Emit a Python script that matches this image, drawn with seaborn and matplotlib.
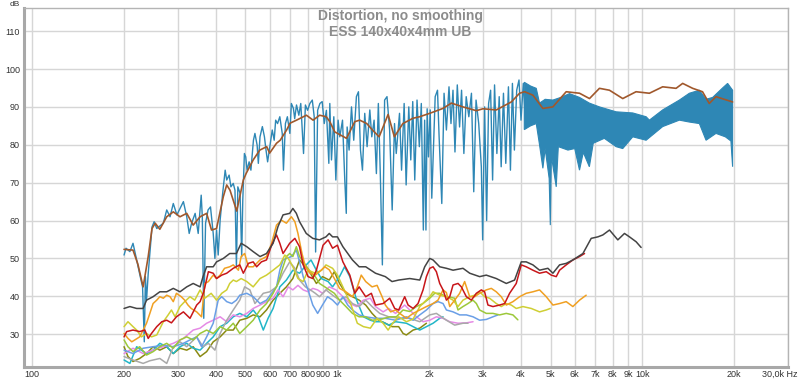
import seaborn as sns
import matplotlib.pyplot as plt
from matplotlib.transforms import ScaledTranslation

sns.set_style("whitegrid", {"grid.color": "#d6d6d6", "axes.edgecolor": "#b0b0b0"})
plt.rcParams['font.family'] = ['Liberation Sans', 'DejaVu Sans']

# fundamental, raw (200 Hz - 4.2 kHz, line part)
fund_f = [200, 203, 209, 214, 217, 226, 230, 233, 235, 237, 240, 247, 251, 256, 269, 276, 283, 290, 298,
          313, 321, 327, 333, 342, 350, 358, 361, 365, 370, 377, 384, 392, 397, 402, 407, 413, 421,
          429, 434, 442, 448, 456, 462, 467, 472, 480, 486, 490, 496, 501, 506, 514, 521, 531, 537, 546,
          551, 558, 568, 577, 583, 591, 601, 612, 621, 628, 637, 648, 660, 666, 676, 686, 699, 707, 718,
          725, 735, 748, 759, 775, 786, 799, 813, 828, 840, 849, 862, 877, 892, 906, 921, 938,
          945, 957, 974, 989, 1006, 1019, 1040, 1058, 1070, 1077, 1093, 1113, 1132, 1155, 1173, 1191,
          1209, 1230, 1252, 1278, 1297, 1320, 1343, 1363, 1384, 1405, 1429, 1455, 1484, 1513, 1540, 1560,
          1599, 1624, 1656, 1681, 1715, 1741, 1767, 1794, 1825, 1857, 1885, 1914, 1933, 1952, 1970, 1990,
          2016, 2040, 2093, 2130, 2156, 2200, 2238, 2278, 2323, 2358, 2394, 2430, 2473, 2516, 2554, 2599,
          2645, 2698, 2752, 2800, 2849, 2907, 2965, 2995, 3040, 3086, 3132, 3180, 3228, 3276, 3334, 3393,
          3444, 3504, 3566, 3638, 3693, 3749, 3805, 3872, 3940, 4000, 4070, 4142, 4204]
fund_db = [50.9, 52.7, 51.8, 54.0, 51.8, 45.2, 42.5, 28.0, 45.2, 39.0, 46.0, 58.3, 59.7, 57.9, 59.3, 62.8,
           61.0, 64.5, 61.5, 65.0, 61.0, 56.6, 59.3, 61.9, 56.6, 66.7, 61.0, 34.2, 59.3, 62.8, 63.6, 56.6,
           50.0, 57.5, 50.9, 60.1, 67.2,
           73.3, 70.7, 72.0, 68.9, 69.8, 68.0, 47.5, 68.9, 67.2, 50.4, 65.4, 77.7, 76.8, 73.3, 75.5, 73.3,
           81.2, 83.0, 79.9, 75.1, 82.1, 84.8, 82.1, 79.0, 75.5, 79.5, 83.9, 81.2, 86.5, 85.6, 87.4, 83.0,
           73.3, 85.6, 87.4, 83.0, 90.9, 89.6, 86.9, 90.5, 87.8, 90.9, 77.7, 90.5, 89.1, 90.9, 91.8, 87.4,
           51.7, 89.1, 90.9, 91.4, 85.6, 89.1, 75.1,
           90.9, 76.0, 87.4, 70.7, 86.5, 82.1, 86.5, 70.7, 61.9, 84.7, 78.6, 90.0, 81.2, 92.7, 94.0, 78.6,
           73.3, 88.3, 79.5, 89.2, 82.1, 86.5, 72.4, 90.9, 71.6, 48.3, 91.8, 92.7, 83.9, 62.8, 85.6, 77.7,
           88.3, 73.3, 90.9, 69.4, 90.0, 76.0, 91.4, 70.7, 91.8, 79.5, 90.9, 57.5, 86.5, 57.5, 89.5, 76.8,
           89.2, 65.9, 92.7, 94.4, 82.1, 64.5, 93.6, 83.9, 95.3, 85.6, 94.4, 78.1, 95.8, 84.7, 94.4, 77.7,
           92.7, 87.4, 93.6, 67.6, 91.8, 85.6, 74.2, 54.9, 90.0, 60.0, 90.9, 94.4, 70.7, 95.8, 77.7, 92.7,
           74.2, 93.6, 75.1, 95.3, 73.3, 96.2, 78.6, 94.4, 97.1, 86.5, 96.2, 85.6, 94.4]

# fundamental, raw (dense band above 4 kHz): upper / lower envelope
band_up_f = [4100, 4300, 4488, 4600, 4800, 5087, 5400, 5768, 6220, 6700, 7230, 8200, 9297, 10283, 10540,
             11651, 13217, 14250, 15369, 16164, 16990, 18316, 19021, 19750]
band_up_db = [96.5, 95.5, 94.9, 91.0, 92.0, 91.8, 92.5, 93.5, 92.5, 91.0, 90.0, 88.7, 88.4, 87.4, 86.5,
              89.2, 91.8, 93.6, 94.4, 92.0, 92.5, 95.0, 96.2, 94.4]
band_lo_f = [4100, 4300, 4488, 4600, 4718, 4800, 4947, 4990, 5030, 5218, 5300, 5700, 6000, 6220, 6400,
             6700, 6900, 7500, 8200, 8620, 9297, 10283, 11651, 13217, 14250, 15369, 16164, 17420, 18700,
             19500, 19750]
band_lo_db = [84.0, 85.0, 85.6, 80.0, 73.8, 79.0, 71.1, 58.8, 77.0, 68.9, 79.5, 78.6, 79.0, 73.3, 78.0,
              74.2, 80.4, 81.7, 79.5, 79.0, 82.1, 81.2, 84.8, 86.5, 86.0, 85.6, 81.2, 83.0, 82.1, 81.0, 74.2]

# fundamental, smoothed
smooth_f = [200, 214, 222, 231, 240, 247, 253, 262, 276, 290, 305, 321, 337, 355, 373, 387, 402, 423, 434,
            445, 468, 492, 503, 530, 557, 587, 600, 632, 650, 682, 700, 735, 792, 833, 875, 920, 945, 981,
            1072, 1141, 1184, 1249, 1304, 1371, 1467, 1538, 1640, 1770, 1862, 2008, 2220, 2365, 2581,
            2856, 3001, 3320, 3717, 3957, 4111, 4375, 4718, 5086, 5626, 6221, 6707, 7230, 7797, 8620,
            9530, 10540, 11650, 12890, 13550, 14610, 15740, 16560, 17420, 19750]
smooth_db = [52.4, 52.2, 48.5, 42.5, 50.5, 57.9, 59.3, 57.7, 61.0, 62.3, 61.0, 61.9, 58.8, 61.0, 61.9, 57.5,
             57.9, 66.3, 69.4, 68.0, 62.5, 70.7, 72.5, 76.0, 78.6, 79.5, 77.8, 80.4, 81.2, 83.9, 85.7, 86.5,
             87.8, 86.5, 87.8, 87.4, 86.1, 83.4, 81.7, 86.1, 86.5, 85.6, 83.9, 82.1, 88.0, 82.1, 85.6, 87.0,
             87.4, 88.3, 89.6, 91.0, 90.0, 89.0, 89.5, 89.2, 91.3, 93.6, 94.0, 93.1, 89.6, 90.0, 94.0, 93.6,
             92.2, 94.9, 94.4, 92.2, 94.0, 93.6, 95.3, 94.9, 96.2, 94.9, 94.0, 90.9, 92.7, 91.3]

thd_f = [200, 209, 220, 231, 237, 249, 262, 276, 290, 305, 321, 337, 355, 363, 373, 392, 402, 423, 444, 467,
         484, 505, 530, 558, 586, 616, 639, 664, 698, 715, 734, 752, 791, 831, 874, 918, 941, 965, 1001,
         1043, 1121, 1179, 1239, 1334, 1437, 1511, 1589, 1727, 1863, 1934, 2009, 2060, 2166, 2278, 2395,
         2582, 2716, 2927, 3077, 3319, 3580, 3811, 4008, 4160, 4376, 4601, 4900, 5089, 5351, 5626, 5916,
         6382, 6794, 7145, 7417, 7800, 8306, 8734, 9068, 9537, 9902]
thd_db = [36.8, 37.3, 36.8, 36.8, 39.0, 39.9, 41.2, 41.2, 42.1, 41.2, 42.5, 43.4, 42.5, 45.2, 47.8, 47.8,
          49.1, 50.0, 51.3, 51.3, 54.0, 53.1, 51.8, 50.5, 51.3, 54.0, 58.4, 61.5, 61.9, 63.2, 61.9, 59.7,
          56.6, 55.3, 54.9, 55.7, 56.6, 55.7, 55.7, 53.1, 49.6, 47.8, 47.8, 46.1, 45.2, 43.9, 44.3, 44.7,
          44.3, 47.8, 50.0, 49.6, 47.8, 47.4, 46.9, 47.4, 46.1, 45.2, 45.6, 44.7, 43.4, 44.3, 49.1, 49.1,
          48.3, 46.9, 47.4, 46.1, 48.3, 48.7, 49.6, 51.3, 55.3, 55.7, 56.2, 57.5, 54.9, 56.6, 55.7, 54.4, 52.9]

h2_f = [200, 204, 214, 225, 234, 240, 246, 256, 266, 276, 286, 297, 313, 329, 346, 355, 365, 378, 392, 402,
        418, 434, 456, 479, 492, 511, 530, 544, 564, 586, 609, 632, 648, 664, 698, 726, 752, 773, 802, 831,
        854, 898, 933, 965, 1001, 1043, 1099, 1141, 1179, 1239, 1293, 1334, 1413, 1485, 1542, 1589, 1663,
        1706, 1772, 1839, 1910, 1959, 2009, 2060, 2112, 2166, 2221, 2278, 2336, 2395, 2487, 2550, 2648,
        2750, 2855, 2965, 3039, 3117, 3237, 3405, 3535, 3670, 3859, 4008, 4160, 4376, 4601, 4840, 5026,
        5218, 5351, 5626, 5916, 6222, 6461]
h2_db = [29.3, 30.7, 31.1, 30.7, 31.1, 28.9, 30.2, 32.0, 33.3, 33.7, 33.0, 34.6, 35.9, 34.2, 37.7, 38.6,
         41.2, 46.5, 46.1, 44.7, 45.6, 46.1, 47.4, 48.3, 46.1, 48.7, 49.1, 47.8, 49.1, 49.6, 53.5, 56.2,
         54.0, 51.3, 54.0, 55.3, 53.1, 48.3, 45.2, 44.7, 46.9, 53.5, 54.9, 52.7, 53.5, 49.1, 45.6, 40.8,
         42.5, 39.9, 40.8, 37.7, 38.1, 39.5, 36.8, 36.4, 39.9, 37.7, 36.8, 38.1, 41.7, 45.2, 47.4, 47.8,
         46.5, 43.4, 41.7, 39.0, 39.9, 43.0, 43.4, 42.5, 39.9, 39.0, 40.8, 41.7, 41.2, 37.7, 37.3, 37.7,
         38.1, 40.8, 43.4, 48.3, 47.8, 46.9, 46.1, 46.5, 45.6, 45.2, 46.9, 48.3, 49.6, 50.5, 51.3]

h3_f = [200, 206, 212, 217, 225, 231, 237, 243, 249, 256, 262, 269, 276, 283, 290, 297, 308, 316, 324, 332,
        346, 359, 368, 378, 392, 402, 413, 427, 444, 456, 474, 484, 497, 511, 530, 558, 586, 609, 632, 656,
        681, 707, 726, 743, 766, 786, 816, 847, 874, 910, 941, 978, 1017, 1067, 1121, 1163, 1198, 1239,
        1300, 1350, 1402, 1437, 1496, 1552, 1602, 1684, 1772, 1863, 1959, 2060, 2138, 2221, 2278, 2336,
        2425, 2518, 2614, 2716, 2819, 2927, 3077, 3197, 3319, 3446, 3580, 3765, 3958, 4160, 4376, 4601,
        4840, 5089, 5351, 5626, 5916, 6222, 6541]
h3_db = [30.2, 28.9, 28.0, 28.5, 29.3, 31.1, 32.9, 35.5, 38.1, 39.0, 39.9, 39.5, 40.3, 39.9, 38.6, 40.8,
         39.9, 39.0, 37.7, 36.8, 35.9, 34.6, 43.4, 43.9, 45.6, 44.7, 45.6, 47.4, 47.8, 48.3, 46.9, 50.5,
         51.3, 47.8, 47.8, 49.6, 50.5, 54.0, 58.8, 60.1, 59.3, 61.0, 59.7, 56.6, 51.3, 47.8, 46.1, 45.6,
         46.5, 47.8, 47.0, 44.7, 42.1, 41.2, 39.9, 42.5, 45.6, 43.9, 42.5, 42.9, 39.9, 37.7, 35.9, 36.4,
         35.5, 34.2, 35.5, 36.4, 37.3, 38.1, 39.0, 41.7, 41.0, 37.3, 39.0, 40.8, 43.9, 39.9, 39.9, 40.8,
         41.7, 42.1, 41.2, 39.9, 37.7, 38.6, 39.9, 40.8, 41.2, 41.7, 39.9, 37.7, 38.1, 38.6, 37.3, 39.0, 40.3]

h4_f = [200, 206, 214, 220, 228, 237, 246, 256, 269, 279, 286, 294, 305, 316, 329, 341, 355, 368, 386, 402,
        418, 434, 444, 456, 467, 484, 505, 530, 558, 586, 616, 648, 673, 691, 715, 743, 773, 802, 847, 889,
        918, 965, 1001, 1054, 1110, 1163, 1218, 1283, 1350, 1413, 1467, 1519, 1589, 1684, 1772, 1863,
        1934, 2009, 2060, 2166, 2278, 2395, 2487, 2582, 2716, 2819, 2927, 3039, 3156, 3319, 3446, 3580,
        3717, 3859, 4058, 4322, 4601, 4840, 4987]
h4_db = [32.0, 33.3, 32.0, 31.1, 29.3, 30.2, 29.3, 29.8, 33.3, 35.1, 36.4, 34.6, 37.3, 38.6, 39.9, 39.0,
         41.7, 39.5, 40.8, 39.0, 40.8, 41.7, 43.4, 44.3, 43.9, 44.7, 43.9, 42.5, 44.7, 45.6, 46.9, 48.3,
         50.9, 50.0, 47.8, 44.7, 43.9, 46.9, 46.1, 46.9, 48.3, 47.4, 45.6, 41.7, 37.7, 32.9, 32.0, 31.6,
         34.2, 32.9, 31.1, 32.9, 34.6, 33.3, 34.0, 37.3, 38.6, 39.9, 41.2, 40.3, 39.9, 39.0, 37.3, 39.0,
         39.9, 40.3, 41.2, 39.9, 39.5, 38.1, 37.3, 38.1, 37.7, 36.8, 37.3, 36.8, 35.9, 36.4, 36.8]

h5_f = [200, 206, 214, 225, 237, 249, 262, 276, 290, 305, 321, 337, 355, 373, 392, 413, 434, 456, 479, 505,
        530, 558, 586, 616, 639, 664, 681, 698, 715, 734, 752, 786, 816, 847, 874, 910, 941, 978, 1017,
        1067, 1121, 1179, 1239, 1300, 1400, 1485, 1562, 1642, 1727, 1816, 1909, 2008, 2085, 2165, 2277,
        2365, 2424, 2486, 2581, 2681, 2783, 2856, 2927, 3078, 3236, 3404, 3579, 3763, 3906]
h5_db = [28.5, 26.7, 25.4, 26.7, 24.5, 25.4, 26.7, 27.6, 26.3, 28.5, 29.3, 28.5, 30.2, 31.1, 30.2, 32.0,
         31.1, 32.9, 30.2, 32.0, 33.7, 36.4, 38.1, 40.8, 43.4, 47.8, 50.5, 51.3, 50.5, 53.1, 50.5, 48.3,
         46.5, 45.2, 43.4, 42.5, 41.7, 40.8, 39.0, 37.3, 35.5, 34.6, 34.6, 33.7, 34.0, 34.6, 34.6, 36.4,
         36.0, 37.3, 38.1, 39.5, 40.8, 40.8, 39.9, 39.7, 39.5, 36.4, 37.3, 38.1, 39.0, 38.1, 36.4, 35.5,
         35.5, 35.1, 35.5, 35.1, 33.8]

h6_f = [200, 214, 231, 249, 269, 290, 313, 329, 346, 359, 373, 392, 407, 418, 434, 451, 467, 479, 505, 530,
        558, 586, 609, 632, 648, 664, 681, 707, 734, 752, 773, 802, 831, 862, 894, 929, 965, 1001, 1043,
        1082, 1121, 1179, 1239, 1334, 1437, 1552, 1684, 1772, 1863, 1959, 2060, 2138, 2221, 2278, 2395,
        2518, 2648, 2785, 2927, 3077, 3237, 3362]
h6_db = [25.8, 24.9, 26.3, 26.7, 27.1, 26.7, 27.6, 28.5, 29.3, 26.7, 29.3, 32.9, 39.0, 39.9, 38.6, 38.1,
         39.0, 40.3, 40.8, 39.9, 38.1, 39.0, 40.8, 42.5, 46.9, 49.6, 50.0, 50.5, 52.2, 49.1, 45.2, 41.7,
         37.7, 35.5, 37.7, 39.9, 39.0, 37.7, 39.9, 37.7, 36.4, 35.1, 34.6, 34.2, 34.2, 33.7, 34.6, 33.7,
         35.1, 36.4, 38.1, 38.6, 38.1, 36.4, 35.9, 35.1, 35.1, 34.6, 33.7, 33.9, 34.6, 35.1]

h7_f = [200, 214, 231, 243, 262, 276, 290, 305, 321, 346, 363, 378, 397, 413, 434, 456, 479, 497, 517, 537,
        572, 601, 632, 664, 698, 726, 752, 786, 816, 847, 874, 918, 965, 1017, 1067, 1121, 1179, 1239,
        1300, 1377, 1474, 1589, 1727, 1863, 2009, 2112, 2278, 2425, 2582, 2682]
h7_db = [24.1, 23.2, 22.3, 23.0, 23.6, 22.3, 26.7, 28.0, 26.7, 29.3, 26.7, 27.6, 25.8, 30.2, 33.7, 36.4,
         39.0, 42.5, 41.7, 38.1, 40.8, 41.2, 42.5, 46.1, 49.1, 47.4, 44.3, 42.5, 41.7, 40.8, 39.9, 41.7,
         40.3, 39.0, 39.9, 38.1, 37.3, 39.0, 37.3, 35.5, 34.6, 34.2, 34.2, 33.3, 35.1, 35.5, 33.7, 32.4,
         32.9, 32.9]

h8_f = [200, 214, 231, 249, 269, 290, 313, 337, 355, 373, 392, 413, 434, 456, 479, 505, 530, 558, 586, 616,
        639, 664, 691, 715, 743, 773, 802, 831, 862, 894, 941, 990, 1043, 1099, 1157, 1218, 1283, 1334,
        1413, 1474, 1552, 1663, 1727, 1817, 1910, 2009, 2112, 2221, 2336, 2487, 2648, 2785]
h8_db = [24.9, 26.3, 24.9, 25.8, 26.7, 27.6, 28.9, 31.1, 31.6, 32.9, 33.7, 34.6, 33.3, 35.1, 34.6, 35.5,
         36.8, 37.7, 38.6, 39.5, 41.7, 39.9, 42.5, 41.7, 42.9, 41.7, 41.2, 42.1, 41.7, 40.8, 42.5, 41.7,
         39.9, 38.1, 37.3, 39.0, 39.5, 37.3, 35.9, 36.8, 35.5, 37.7, 36.4, 34.6, 33.3, 33.7, 34.6, 34.2,
         33.3, 32.9, 33.0, 33.3]

h9_f = [200, 209, 220, 228, 237, 249, 262, 276, 290, 305, 321, 337, 355, 373, 392, 413, 434, 456, 479, 505,
        530, 551, 572, 593, 616, 648, 681, 715, 752, 791, 820, 854, 886, 933, 965, 1017, 1056, 1099, 1157,
        1218, 1283, 1334, 1402, 1474, 1552, 1684, 1772, 1863, 1959, 2060, 2166, 2221]
h9_db = [23.2, 22.3, 26.7, 25.8, 24.9, 25.8, 27.6, 26.7, 24.9, 26.7, 27.6, 26.3, 25.8, 27.6, 29.3, 32.0,
         32.9, 34.6, 35.5, 34.6, 36.4, 34.6, 31.1, 34.2, 36.8, 42.5, 44.3, 46.9, 46.1, 48.3, 49.6, 46.9,
         44.7, 43.9, 42.5, 45.2, 47.8, 45.2, 39.0, 34.6, 33.7, 33.3, 33.3, 32.4, 33.3, 32.9, 32.0, 31.1,
         32.0, 32.9, 34.2, 34.6]

h10_f = [200, 206, 214, 225, 237, 249, 262, 276, 290, 305, 321, 337, 355, 373, 392, 413, 434, 456, 479,
         505, 530, 558, 586, 616, 648, 681, 715, 752, 786, 816, 854, 894, 941, 978, 1017, 1067, 1121, 1179,
         1239, 1300, 1366, 1437, 1511, 1589, 1643, 1684, 1772, 1863, 1959]
h10_db = [26.7, 24.1, 22.8, 23.6, 24.9, 26.7, 25.8, 26.7, 24.9, 26.3, 25.8, 26.7, 24.1, 25.4, 28.0, 29.3,
          31.1, 31.1, 33.7, 34.2, 35.1, 34.6, 36.4, 39.0, 40.8, 42.5, 44.7, 49.6, 47.8, 46.1, 43.4, 45.2,
          44.3, 46.5, 43.4, 40.8, 39.9, 39.0, 37.7, 35.5, 33.7, 32.9, 32.0, 32.0, 30.2, 29.8, 31.1, 31.6, 32.9]

# drawing order and colours (back to front)
harmonics = [
    (h10_f, h10_db, "#8a8a12"),
    (h9_f, h9_db, "#22b6c8"),
    (h8_f, h8_db, "#e58ae5"),
    (h7_f, h7_db, "#a9a9a9"),
    (h6_f, h6_db, "#6a9fe6"),
    (h5_f, h5_db, "#9cc83a"),
    (h4_f, h4_db, "#cfcf34"),
    (h3_f, h3_db, "#f0a022"),
    (h2_f, h2_db, "#c8161a"),
    (thd_f, thd_db, "#444444"),
]

xticks = [100, 200, 300, 400, 500, 600, 700, 800, 900, 1000, 2000, 3000, 4000, 5000, 6000, 7000, 8000,
          9000, 10000, 20000, 30000]
xlabels = ["100", "200", "300", "400", "500", "600", "700", "800", "900", "1k", "2k", "3k", "4k", "5k",
           "6k", "7k", "8k", "9k", "10k", "20k", "30,0k Hz"]
yticks = [30, 40, 50, 60, 70, 80, 90, 100, 110]

fig = plt.figure(figsize=(8, 3.8), dpi=100)
ax = fig.add_axes([24 / 800, 13 / 380, 764 / 800, 359 / 380])

# raw fundamental
ax.fill(band_up_f + band_lo_f[::-1], band_up_db + band_lo_db[::-1], color="#2e87b5", lw=0.8, zorder=2)
sns.lineplot(x=fund_f, y=fund_db, color="#2e87b5", lw=1.0, estimator=None, sort=False, ax=ax, zorder=2)
sns.lineplot(x=smooth_f, y=smooth_db, color="#a0582c", lw=1.2, estimator=None, sort=False, ax=ax, zorder=3)

for f, db, c in harmonics:
    sns.lineplot(x=f, y=db, color=c, lw=1.1, estimator=None, sort=False, ax=ax, zorder=2)

ax.set_xscale("log")
ax.set_xlim(94, 30000)
ax.set_ylim(21.35, 116.1)
ax.set_xticks(xticks)
ax.set_xticklabels(xlabels)
ax.minorticks_off()
ax.set_yticks(yticks)
ax.set_yticklabels([str(v) for v in yticks])
ax.tick_params(axis="both", length=0, labelsize=6.5, colors="#333333")
ax.tick_params(axis="x", pad=2)
ax.tick_params(axis="y", pad=3)
ax.grid(True, color="#d6d6d6", lw=1.0)
ax.set_xlabel("")
ax.set_ylabel("")

# last x label sits against the right edge, as in the original
last = ax.get_xticklabels()[-1]
last.set_ha("right")
last.set_transform(last.get_transform() + ScaledTranslation(0.1, 0, fig.dpi_scale_trans))

for side in ["top", "right"]:
    ax.spines[side].set_color("#b4b4b4")
    ax.spines[side].set_linewidth(1.0)
for side in ["left", "bottom"]:
    ax.spines[side].set_color("#a8a8a8")
    ax.spines[side].set_linewidth(2.2)

fig.text(15 / 800, 1 - 5 / 380, "dB", fontsize=6, color="#333333", ha="center", va="center")
fig.text(400 / 800, 1 - 16 / 380, "Distortion, no smoothing", fontsize=10, fontweight="bold",
         color="#8c8c8c", ha="center", va="center")
fig.text(400 / 800, 1 - 32 / 380, "ESS 140x40x4mm UB", fontsize=10, fontweight="bold",
         color="#8c8c8c", ha="center", va="center")

fig.savefig("out.png", dpi=100)
